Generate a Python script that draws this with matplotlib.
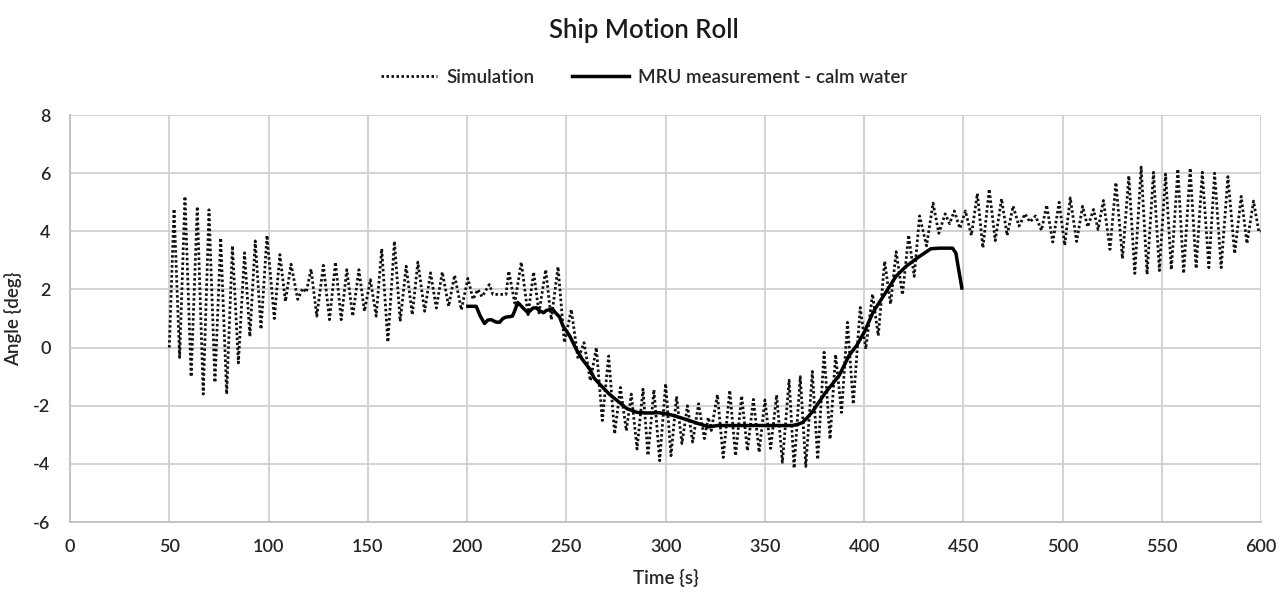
import matplotlib
matplotlib.use("Agg")
import matplotlib.pyplot as plt

# Simulation: roll angle at each turning point
sim_time = [
    50.0, 52.4, 55.2, 57.9, 61.0, 64.1, 67.1, 70.0, 73.0, 75.9,
    78.9, 81.8, 84.8, 87.9, 90.6, 93.3, 96.2, 99.2, 102.9, 105.7,
    108.5, 111.3, 114.7, 117.2, 119.0, 121.4, 124.3, 127.6, 130.7, 133.7,
    136.6, 139.4, 142.4, 145.5, 148.3, 151.3, 154.2, 157.0, 160.1, 163.4,
    166.3, 169.3, 172.4, 175.2, 178.6, 181.6, 184.5, 187.5, 190.7, 193.7,
    197.1, 200.4, 203.0, 205.4, 207.5, 211.2, 213.0, 219.6, 221.0, 224.0,
    227.3, 230.7, 233.5, 236.2, 239.6, 242.4, 245.8, 249.0, 252.5, 255.9,
    258.9, 262.1, 265.1, 268.1, 271.3, 274.3, 277.2, 280.2, 282.7, 285.6,
    288.6, 291.1, 294.1, 297.0, 300.0, 302.7, 305.5, 308.2, 311.0, 313.6,
    316.6, 319.5, 321.5, 323.0, 326.1, 329.0, 332.3, 335.2, 338.3, 341.2,
    344.2, 347.1, 350.0, 352.9, 355.9, 358.8, 362.2, 364.7, 367.8, 370.6,
    373.9, 376.6, 379.8, 382.8, 385.6, 388.6, 391.6, 394.5, 398.0, 400.8,
    404.2, 407.1, 410.3, 413.3, 416.1, 419.3, 422.4, 425.2, 427.9, 431.4,
    434.7, 437.6, 440.8, 443.0, 445.4, 448.2, 451.0, 454.0, 457.0, 459.8,
    463.0, 466.0, 469.2, 472.0, 475.0, 478.0, 481.0, 483.5, 486.3, 489.3,
    491.9, 495.0, 498.2, 501.0, 503.8, 507.0, 510.0, 512.6, 515.5, 517.8,
    520.5, 523.8, 526.8, 530.1, 533.3, 536.3, 539.5, 542.5, 545.7, 548.7,
    551.8, 554.7, 558.0, 560.9, 564.2, 567.2, 570.3, 573.6, 576.5, 579.8,
    583.2, 586.6, 589.9, 592.8, 596.1, 598.8, 600.0,
]
sim_angle = [
    0.0, 4.77, -0.34, 5.2, -1.0, 4.85, -1.6, 4.74, -1.2, 3.77,
    -1.6, 3.5, -0.53, 3.26, 0.38, 3.67, 0.63, 3.86, 1.0, 3.2,
    1.59, 2.87, 1.66, 2.04, 1.9, 2.7, 1.08, 2.83, 0.96, 2.94,
    0.96, 2.68, 1.08, 2.68, 1.25, 2.34, 1.08, 3.4, 0.19, 3.66,
    0.9, 2.8, 1.13, 2.94, 1.25, 2.57, 1.36, 2.6, 1.42, 2.49,
    1.3, 2.38, 1.66, 2.0, 1.75, 2.17, 1.83, 1.83, 2.63, 1.53,
    2.94, 1.13, 2.6, 1.19, 2.68, 0.96, 2.78, 0.17, 1.31, -0.4,
    0.17, -1.14, 0.0, -2.51, -0.29, -2.97, -1.37, -2.86, -1.6, -3.49,
    -1.43, -3.71, -1.45, -3.89, -1.24, -3.72, -1.68, -3.3, -2.0, -3.25,
    -1.93, -3.13, -2.4, -2.85, -1.62, -3.78, -1.47, -3.72, -1.66, -3.55,
    -1.78, -3.6, -1.8, -3.47, -1.63, -3.95, -1.12, -4.15, -1.0, -4.09,
    -0.82, -3.85, -0.16, -3.15, -0.24, -2.23, 0.87, -1.95, 1.38, -0.05,
    1.84, 0.41, 2.97, 1.5, 3.3, 1.82, 3.87, 2.45, 4.53, 3.5,
    4.97, 3.93, 4.6, 4.26, 4.7, 4.1, 4.7, 3.86, 5.3, 3.43,
    5.45, 3.68, 5.12, 3.86, 4.87, 4.18, 4.6, 4.32, 4.53, 4.03,
    4.9, 3.63, 5.0, 3.52, 5.15, 3.65, 4.86, 4.15, 4.75, 4.06,
    5.06, 3.38, 5.68, 3.06, 5.91, 2.55, 6.21, 2.52, 6.03, 2.65,
    5.97, 2.68, 6.14, 2.55, 6.17, 2.72, 6.03, 2.75, 6.0, 2.75,
    5.88, 3.23, 5.2, 3.58, 5.04, 3.98, 4.0,
]

# MRU measurement in calm water
mru_time = [
    200.4, 204.6, 206.5, 208.8, 210.5, 212.2, 214.5, 216.4, 218.0, 219.7,
    222.8, 223.9, 225.5, 226.3, 228.2, 230.7, 233.2, 234.9, 236.2, 238.5,
    240.0, 242.9, 244.5, 246.6, 248.3, 251.7, 255.0, 258.0, 261.8, 264.0,
    266.8, 271.6, 276.8, 280.5, 285.7, 291.0, 296.6, 302.0, 306.0, 310.2,
    316.8, 321.8, 326.0, 330.3, 347.1, 363.9, 366.5, 368.9, 371.5, 373.9,
    377.0, 380.7, 384.0, 387.4, 392.4, 396.3, 400.2, 404.5, 410.7, 416.0,
    421.0, 427.7, 433.6, 437.8, 444.5, 446.2, 447.6, 449.2,
]
mru_angle = [
    1.42, 1.42, 1.1, 0.83, 0.95, 0.96, 0.88, 0.87, 1.0, 1.05,
    1.08, 1.25, 1.55, 1.5, 1.36, 1.2, 1.36, 1.37, 1.28, 1.2,
    1.28, 1.33, 1.2, 1.05, 0.74, 0.4, -0.06, -0.4, -0.74, -1.05,
    -1.26, -1.6, -1.89, -2.1, -2.23, -2.25, -2.24, -2.3, -2.38, -2.47,
    -2.62, -2.73, -2.68, -2.68, -2.68, -2.68, -2.64, -2.58, -2.4, -2.21,
    -1.9, -1.53, -1.25, -0.96, -0.27, 0.08, 0.55, 1.22, 1.88, 2.45,
    2.79, 3.13, 3.4, 3.42, 3.42, 3.25, 2.68, 2.05,
]

x_ticks = list(range(0, 601, 50))
y_ticks = list(range(-6, 9, 2))

plt.rcParams['font.family'] = ['Lato', 'DejaVu Sans']
plt.rcParams['axes.unicode_minus'] = False

fig = plt.figure(figsize=(12.87, 5.92), dpi=100)
ax = fig.add_axes([0.0544, 0.1182, 0.9256, 0.6875])

ax.plot(sim_time, sim_angle, color='#111111', linewidth=2.0,
        linestyle=(0, (0.9, 0.9)), label='Simulation')
ax.plot(mru_time, mru_angle, color='black', linewidth=2.5,
        solid_joinstyle='round', label='MRU measurement - calm water')

ax.set_xlim(0, 600)
ax.set_ylim(-6, 8)
ax.set_xticks(x_ticks)
ax.set_yticks(y_ticks)
ax.grid(True, color='#d0d0d0', linewidth=1.3)
ax.set_axisbelow(True)
for side in ['top', 'right']:
    ax.spines[side].set_visible(False)
for side in ['left', 'bottom']:
    ax.spines[side].set_color('#bfbfbf')
    ax.spines[side].set_linewidth(1.3)
ax.tick_params(length=0, labelsize=13, labelcolor='#262626', pad=12)
ax.tick_params(axis='y', pad=14)
for lbl in ax.get_xticklabels() + ax.get_yticklabels():
    lbl.set_fontweight('semibold')

ax.set_xlabel('Time {s}', fontsize=13.5, color='#262626', labelpad=10,
              fontweight='semibold')
ax.set_ylabel('Angle {deg}', fontsize=13.5, color='#262626', labelpad=8,
              fontweight='semibold')

fig.suptitle('Ship Motion Roll', fontsize=18.5, color='#1a1a1a', y=0.97,
             fontweight='semibold')
ax.legend(loc='lower center', bbox_to_anchor=(0.482, 1.03), ncol=2,
          frameon=False, prop={'size': 13.5, 'weight': 'semibold'},
          handlelength=3.0, columnspacing=2.0, handletextpad=0.5,
          labelcolor='#262626')

fig.savefig('out.png', dpi=100, facecolor='white')
